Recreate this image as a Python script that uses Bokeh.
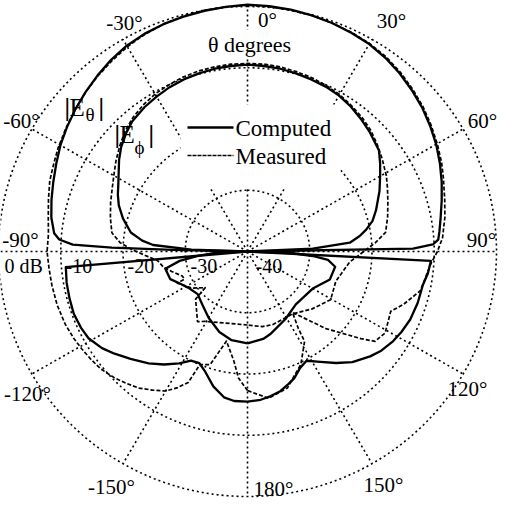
import numpy as np
from bokeh.plotting import figure
from bokeh.models import Range1d, Label
from bokeh.embed import file_html
from bokeh.resources import INLINE

# ---- data: (theta in degrees, level in dB) ----
eth_comp_theta = [-180, -175, -171, -166, -161, -157, -153, -149, -144, -139, -133, -128, -124, -119, -115,
                  -110, -105, -100, -95, -90,
                  -88.7, -88.3, -87.7, -86.3, -84.5, -80, -75, -70, -65, -60, -55, -50, -45, -40, -35,
                  -30, -25, -20, -15, -10, -5, 0, 5, 10, 15, 20, 25, 30, 35, 40, 45, 50, 55, 60, 65,
                  70, 75, 80, 84, 86.4, 87.8, 89, 90,
                  93, 97, 101, 107, 113, 118, 122, 127, 131, 137, 142, 147, 152, 156, 160, 163, 167,
                  171, 175, 180]
eth_comp_db = [-15.5, -15.5, -15.9, -17.3, -19.2, -20.2, -20.0, -18.7, -17.2, -15.8, -14.3, -12.9, -11.8, -10.8, -10.5,
               -10.3, -10.4, -10.5, -10.7, -40,
               -28, -18.2, -11.9, -9.7, -8.8, -8.0, -7.4, -6.8, -6.1, -5.3, -4.6, -3.9, -3.2, -2.5, -1.8,
               -1.2, -0.8, -0.5, -0.3, -0.1, 0.1, 0.3, 0.2, 0.1, -0.1, -0.3, -0.6, -0.9, -1.4, -2.0, -2.7, -3.4, -4.2, -5.0, -5.9,
               -6.8, -7.7, -8.5, -9.0, -9.3, -10.2, -13.4, -40,
               -10.5, -10.8, -11.3, -11.4, -11.6, -12.0, -12.4, -13.1, -13.9, -15.3, -16.9, -18.5, -19.8, -19.2, -18.0, -17.4, -16.6,
               -16.1, -15.7, -15.5]

eth_meas_theta = [-180, -176, -173, -167, -162, -157.5, -156, -153, -150, -146, -142, -138, -134, -129, -125,
                  -121, -117, -112, -106, -100, -95, -90,
                  -85, -80, -75, -70, -65, -61, -55, -50, -45, -40, -35, -30, -25, -20, -15, -10, -5, 0,
                  5, 10, 15, 20, 25, 30, 35, 40, 45, 50, 55, 60, 65, 69, 75, 80, 86, 90,
                  94, 103, 109, 113, 121, 125.6, 128, 135, 144, 147, 148, 155, 164, 172, 180]
eth_meas_db = [-17.3, -19.3, -22, -25, -20.6, -20, -16.6, -15.0, -13.7, -12.7, -11.7, -11.0, -10.3, -9.6, -9.3,
               -9.0, -8.7, -8.4, -8.2, -8.1, -8.0, -7.8,
               -7.9, -7.5, -6.9, -6.2, -5.7, -5.2, -4.5, -3.9, -3.2, -2.6, -2.0, -1.4, -0.9, -0.5, -0.2, 0, 0.1, 0.2,
               0.1, 0, -0.1, -0.3, -0.5, -0.8, -1.2, -1.8, -2.5, -3.2, -4.0, -4.8, -5.6, -6.3, -7.2, -7.8, -8.6, -9.5,
               -10.5, -11.5, -13.5, -15, -14.2, -14.8, -16.9, -22.2, -27.7, -25, -22.7, -19.7, -16.8, -15.8, -17.3]

eph_comp_theta = [-180, -170, -161, -150, -140, -131, -123, -116, -110, -102, -98, -95, -92, -90,
                  -88, -86, -84, -80.6, -75, -70, -66, -62, -58, -54, -50, -45, -41, -35, -30, -25, -20,
                  -15, -10, -5, 0, 5, 10, 15, 20, 25, 30, 35, 40, 45, 52, 56, 60, 65, 72, 76, 79.4, 82,
                  85, 87.4, 90,
                  92, 94, 96, 100, 109, 120, 138, 151, 165, 170, 180]
eph_comp_db = [-25, -25.3, -26.1, -27.5, -28.7, -29.4, -28.9, -28, -26.8, -26.5, -29, -32, -35, -40,
               -31, -24.8, -23, -21, -19.3, -18, -17.2, -16.5, -15.6, -14.5, -13.5, -12.5, -11.8, -11.2, -10.8, -10.4, -10.1,
               -9.9, -9.7, -9.6, -9.5, -9.6, -9.7, -9.9, -10.1, -10.3, -10.6, -11.1, -11.7, -12.3, -13.2, -14.3, -15.4, -16.6, -18.3, -19.3, -20.6, -21.8,
               -23.5, -29.5, -40,
               -33, -29.5, -27, -25.7, -26, -27.9, -28.4, -27.4, -26, -25.5, -25]

eph_meas_theta = [-180, -166, -149, -145, -133, -131, -124, -114.6, -114, -111, -105, -101, -96, -93, -89,
                  -86, -82, -76, -70, -65, -60, -55, -50, -45, -40, -35, -30, -25, -20, -15, -10, -5, 0,
                  5, 10, 15, 20, 25, 30, 35, 40, 45, 50, 55, 61, 65, 70, 76, 82, 86,
                  96, 109, 120.5, 132, 144.5, 161, 169, 180]
eph_meas_db = [-28, -27.9, -26.7, -26, -28.6, -31, -29.3, -27.6, -28.9, -28.8, -27.4, -26.3, -25.5, -24, -21.4,
               -19.5, -18, -17.3, -16.6, -16, -15.2, -14.2, -13.2, -12.2, -11.4, -10.8, -10.3, -10, -9.7, -9.5, -9.4, -9.3, -9.3,
               -9.3, -9.4, -9.6, -9.8, -10.1, -10.4, -10.9, -11.4, -12.0, -12.8, -13.6, -14.5, -15.2, -16, -16.8, -17.6, -19.4,
               -23.5, -25, -24.5, -26, -27.5, -27.4, -27.5, -28]

ring_db = [0, -10, -20, -30]
ring_labels = ["0 dB", "-10", "-20", "-30", "-40"]
spoke_angles = [0, 30, 60, 90, 120, 150, 180, 210, 240, 270, 300, 330]
angle_labels = ["0°", "30°", "60°", "90°", "120°", "150°", "180°", "-150°", "-120°", "-90°", "-60°", "-30°"]

# ---- geometry ----
RX, RY = 249.0, 245.0
DB_MIN = -40.0


def to_xy(theta, db):
    th = np.radians(np.asarray(theta, dtype=float))
    rho = (np.asarray(db, dtype=float) - DB_MIN) / (-DB_MIN)
    rho = np.clip(rho, 0, None)
    return RX * rho * np.sin(th), RY * rho * np.cos(th)


p = figure(width=500, height=500, x_range=Range1d(-247, 253), y_range=Range1d(-249, 251),
           output_backend="svg", toolbar_location=None, min_border=0)
p.axis.visible = False
p.xgrid.visible = False
p.ygrid.visible = False
p.outline_line_color = None
p.background_fill_color = "white"
p.border_fill_color = "white"

FONT = "Liberation Serif"
GRID_DASH = "2 3"

# rings
t = np.linspace(0, 360, 721)
for d in ring_db:
    x, y = to_xy(t, np.full_like(t, d))
    p.line(x, y, line_color="black", line_width=1.6, line_dash=GRID_DASH)

# spokes
for a in spoke_angles:
    x, y = to_xy([a, a], [DB_MIN, 0])
    p.line(x, y, line_color="black", line_width=1.6, line_dash=GRID_DASH)

# white boxes behind legend and axis title
p.quad(left=[-67, -46], right=[93, 48], bottom=[64, 194], top=[147, 222],
       fill_color="white", line_color=None)

# curves
for th, db, dash, lw in [(eth_comp_theta, eth_comp_db, "solid", 2.3),
                         (eph_comp_theta, eph_comp_db, "solid", 2.3),
                         (eth_meas_theta, eth_meas_db, "4 2", 1.7),
                         (eph_meas_theta, eph_meas_db, "4 2", 1.7)]:
    x, y = to_xy(th, db)
    p.line(x, y, line_color="black", line_width=lw, line_dash=dash, line_join="round")

# legend
p.line([-60, -14], [124, 124], line_color="black", line_width=2.5)
p.line([-60, -14], [96, 96], line_color="black", line_width=1.7, line_dash="4 1")
p.add_layout(Label(x=-12, y=123, text="Computed", text_font=FONT, text_font_size="23px",
                   text_align="left", text_baseline="middle", text_color="black"))
p.add_layout(Label(x=-12, y=95, text="Measured", text_font=FONT, text_font_size="23px",
                   text_align="left", text_baseline="middle", text_color="black"))
p.add_layout(Label(x=2, y=207, text="θ degrees", text_font=FONT, text_font_size="22px",
                   text_align="center", text_baseline="middle", text_color="black"))

# angle labels
angle_pos = {"0°": (20, 232), "30°": (144, 231), "60°": (235, 131), "90°": (234, 12),
             "120°": (220, -137), "150°": (136, -233), "180°": (26, -237), "-150°": (-136, -235),
             "-120°": (-220, -142), "-90°": (-227, 12), "-60°": (-226, 131), "-30°": (-123, 229)}
for lab in angle_labels:
    x0, y0 = angle_pos[lab]
    p.add_layout(Label(x=x0, y=y0, text=lab, text_font=FONT, text_font_size="21px",
                       text_align="center", text_baseline="middle", text_color="black"))

# dB labels
db_pos = [-243, -182, -120, -57, 8]
for lab, x0 in zip(ring_labels, db_pos):
    p.add_layout(Label(x=x0, y=-14, text=lab, text_font=FONT, text_font_size="20px",
                       text_align="left", text_baseline="middle", text_color="black"))

# component labels |E_theta| and |E_phi|
for (xe, ye, sub, xs, ys, xb) in [(-183, 144, "θ", -162, 137, -149),
                                  (-133, 117, "ϕ", -113, 104, -99)]:
    p.add_layout(Label(x=xe, y=ye, text="|", text_font=FONT, text_font_size="25px",
                       text_font_style="bold", text_align="left", text_baseline="middle",
                       text_color="black"))
    p.add_layout(Label(x=xe + 5, y=ye, text="E", text_font=FONT, text_font_size="25px",
                       text_align="left", text_baseline="middle", text_color="black"))
    p.add_layout(Label(x=xs, y=ys, text=sub, text_font=FONT, text_font_size="19px",
                       text_align="left", text_baseline="middle", text_color="black"))
    p.add_layout(Label(x=xb, y=ye, text="|", text_font=FONT, text_font_size="25px",
                       text_font_style="bold", text_align="left", text_baseline="middle",
                       text_color="black"))

open("out.html", "w").write(file_html(p, INLINE))
